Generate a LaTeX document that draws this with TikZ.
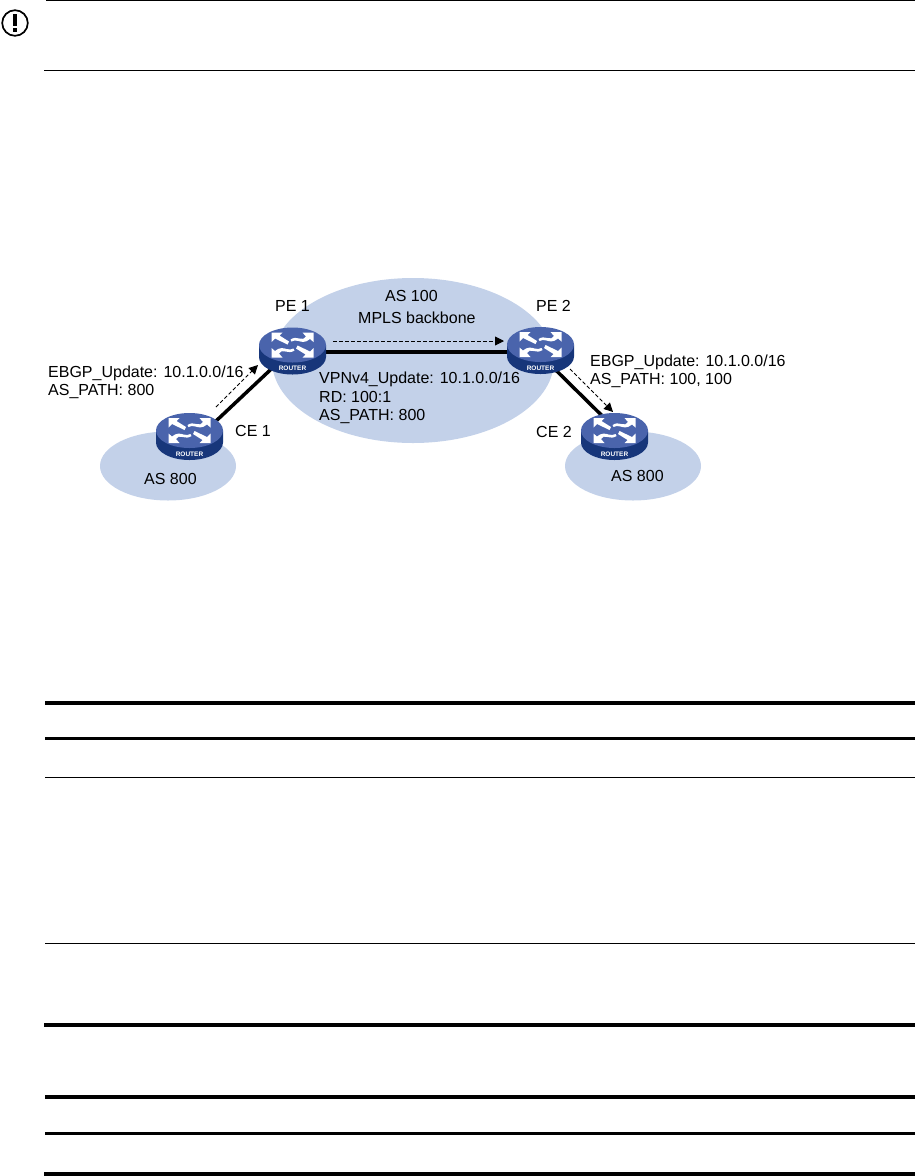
\documentclass[tikz,border=0pt]{standalone}
\usepackage{fontspec}
\setmainfont{Liberation Sans}
\usetikzlibrary{arrows.meta,shapes.geometric}
\definecolor{asfill}{HTML}{C3D1E9}
\definecolor{rtop}{HTML}{4A64AC}
\definecolor{rside}{HTML}{17367A}
\tikzset{
  link/.style={line width=3.5pt,black},
  update/.style={line width=0.9pt,black,dash pattern=on 3.6pt off 2.4pt,-{Triangle[length=9pt,width=9pt]}},
  lbl/.style={font=\fontsize{16}{19}\selectfont,anchor=base west,inner sep=0pt,text=black},
  thickrule/.style={line width=3.8pt},
  midrule/.style={line width=3pt},
  thinrule/.style={line width=1pt},
  rnode/.style={shape=ellipse,minimum width=67pt,minimum height=40pt,inner sep=0pt},
  rarrow/.style={fill=white,draw=none},
  pics/routerbody/.style={code={
    \fill[rside] (-33.5,0) -- (-33.5,12) arc[start angle=180,end angle=0,x radius=33.5,y radius=17.5] -- (33.5,0) -- cycle;
    \fill[rtop] (0,0) ellipse[x radius=33.5,y radius=17.5];
    \foreach \ang in {0,180}{
      \begin{scope}[rotate=\ang]
        \fill[rarrow] (-21,-12.5) -- (-10,-12.5) -- (-13,-9.5) -- (-3.5,-3.5) -- (-5,-0.5) -- (-17.5,-6.5) -- (-21,-3) -- cycle;
        \fill[rarrow] (21,-12.5) -- (21,-3) -- (17.5,-6) .. controls (13,-2) and (9,-3) .. (6,-4) .. controls (3,-5) and (1,-4.5) .. (-1,-3.5) -- (-2,-5.5) .. controls (1,-7.5) and (4,-7.5) .. (7,-6.5) .. controls (10,-5.5) and (12,-6) .. (13.5,-8.5) -- (10,-12.5) -- cycle;
      \end{scope}}
    \node[font=\fontsize{6.5}{8}\selectfont\bfseries,text=white,inner sep=0pt] at (0,23.5) {ROUTER};
  }},
}
\begin{document}
\begin{tikzpicture}[x=1pt,y=-1pt]
\useasboundingbox (0,0) rectangle (915,1176);
% warning icon and rules
\draw[line width=1.7pt] (15,23) circle[radius=12.8];
\fill (13.2,14) rectangle (16.8,26);
\fill (13.2,28.2) rectangle (16.8,31.5);
\coordinate (nt1l) at (46,0.6); \coordinate (nt1r) at (915,0.6);
\coordinate (nt2l) at (44,70.4); \coordinate (nt2r) at (915,70.4);
\draw[thinrule] (nt1l) -- (nt1r);
\draw[thinrule] (nt2l) -- (nt2r);
% AS areas
\fill[asfill] (168,466) ellipse[x radius=68,y radius=34.5];
\fill[asfill] (413,360.5) ellipse[x radius=141,y radius=82.5];
\fill[asfill] (633,466) ellipse[x radius=68,y radius=34.5];
% router nodes
\node[rnode] (pe1) at (292.5,352) {};
\node[rnode] (pe2) at (540.5,352) {};
\node[rnode] (ce1) at (189.5,446) {};
\node[rnode] (ce2) at (614.5,428) {};
\coordinate (pe1a) at (292.5,349);
\coordinate (pe2a) at (540.5,355);
% links
\draw[link] (ce1.center) -- (pe1a);
\draw[link] (pe1.center) -- (pe2.center);
\draw[link] (pe2a) -- (ce2.center);
% routers
\pic at (292.5,345) {routerbody};
\pic at (540.5,344.5) {routerbody};
\pic at (189.5,430.5) {routerbody};
\pic at (614.5,430.5) {routerbody};
% updates
\coordinate (u1a) at (216,407); \coordinate (u1b) at (258,365);
\coordinate (u2a) at (333,341); \coordinate (u2b) at (504,341);
\coordinate (u3a) at (570,369); \coordinate (u3b) at (613,412);
\draw[update] (u1a) -- (u1b);
\draw[update] (u2a) -- (u2b);
\draw[update] (u3a) -- (u3b);
% labels
\node[lbl] (l1) at (275,311) {PE 1};
\node[lbl] (l2) at (536,311) {PE 2};
\node[lbl] (l3) at (235,436) {CE 1};
\node[lbl] (l4) at (536,437) {CE 2};
\node[lbl] (l5) at (385,301) {AS 100};
\node[lbl] (l6) at (358,323) {MPLS backbone};
\node[lbl] (l7) at (144,484) {AS 800};
\node[lbl] (l8) at (611,481) {AS 800};
\node[lbl] (l9) at (48,377) {EBGP\_Update: 10.1.0.0/16};
\node[lbl] (l10) at (48,395) {AS\_PATH: 800};
\node[lbl] (l11) at (590,366) {EBGP\_Update: 10.1.0.0/16};
\node[lbl] (l12) at (590,384) {AS\_PATH: 100, 100};
\node[lbl] (l13) at (319,383) {VPNv4\_Update: 10.1.0.0/16};
\node[lbl] (l14) at (319,402) {RD: 100:1};
\node[lbl] (l15) at (319,420) {AS\_PATH: 800};
% table rules
\foreach \yy/\st/\xl in {702.7/thickrule/45,738.3/midrule/45,777.3/thinrule/45,943.3/thinrule/45,1025/thickrule/44,1097.3/thickrule/45,1133.3/midrule/45,1174/thickrule/44}{
  \draw[\st] (\xl,\yy) -- (915,\yy);
}
\end{tikzpicture}
\end{document}
